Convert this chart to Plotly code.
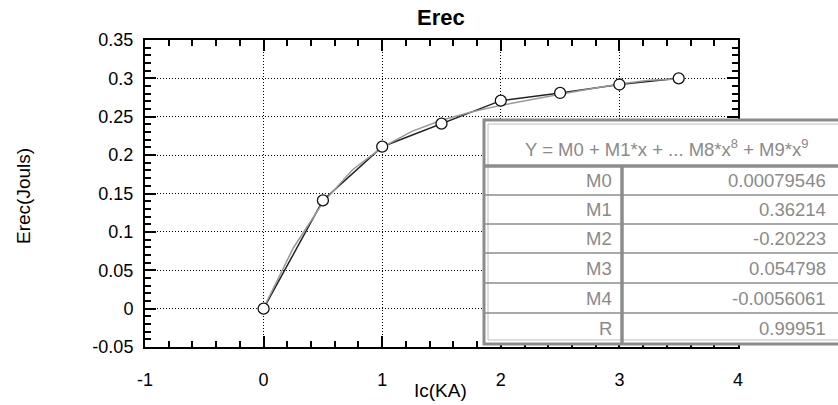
import plotly.graph_objects as go

# ---- data ----
ic_ka = [0, 0.5, 1, 1.5, 2, 2.5, 3, 3.5]
erec = [0.0, 0.141, 0.211, 0.241, 0.271, 0.281, 0.292, 0.300]

fit_x = [0, 0.25, 0.5, 0.75, 1, 1.25, 1.5, 1.75, 2, 2.25, 2.5, 2.75, 3, 3.25, 3.5]
fit_y = [0.0008, 0.079, 0.138, 0.181, 0.210, 0.231, 0.2455, 0.2563, 0.2648,
         0.2723, 0.2794, 0.2863, 0.2926, 0.2975, 0.2993]

x_tickvals = [-1, 0, 1, 2, 3, 4]
x_ticktext = ["-1", "0", "1", "2", "3", "4"]
y_tickvals = [-0.05, 0, 0.05, 0.1, 0.15, 0.2, 0.25, 0.3, 0.35]
y_ticktext = ["-0.05", "0", "0.05", "0.1", "0.15", "0.2", "0.25", "0.3", "0.35"]

table_header = "Y = M0 + M1*x + ... M8*x<sup>8</sup> + M9*x<sup>9</sup>"
param_names = ["M0", "M1", "M2", "M3", "M4", "R"]
param_values = ["0.00079546", "0.36214", "-0.20223", "0.054798", "-0.0056061", "0.99951"]

# ---- figure ----
W, H = 838, 405
L, R, T, B = 145, 738, 40, 347

def px(x):
    return (x - L) / (R - L)

def py(y):
    return (B - y) / (B - T)

FONT = "Liberation Sans, Arial, sans-serif"

fig = go.Figure()
fig.add_trace(go.Scatter(x=ic_ka, y=erec, mode="lines",
                         line=dict(color="#222222", width=1.5), showlegend=False))
fig.add_trace(go.Scatter(x=fit_x, y=fit_y, mode="lines",
                         line=dict(color="#999999", width=1.5), showlegend=False))
fig.add_trace(go.Scatter(x=ic_ka, y=erec, mode="markers",
                         marker=dict(symbol="circle", size=11, color="white",
                                     line=dict(color="#111111", width=1.3)),
                         showlegend=False))

axis_common = dict(showline=True, linecolor="black", linewidth=2, mirror="allticks",
                   ticks="inside", tickcolor="black", tickwidth=1.5, ticklen=11,
                   showgrid=True, gridcolor="black", griddash="1px,2px", gridwidth=1,
                   zeroline=False, tickfont=dict(family=FONT, size=18, color="black"))

fig.update_xaxes(range=[-1, 4], tickvals=x_tickvals, ticktext=x_ticktext,
                 ticklabelstandoff=15,
                 minor=dict(dtick=0.2, tick0=0, ticks="inside", ticklen=6,
                            tickcolor="black", tickwidth=1.5, showgrid=False),
                 **axis_common)
fig.update_yaxes(range=[-0.05, 0.35], tickvals=y_tickvals, ticktext=y_ticktext,
                 ticklabelstandoff=6,
                 minor=dict(dtick=0.01, tick0=0, ticks="inside", ticklen=6,
                            tickcolor="black", tickwidth=1.5, showgrid=False),
                 **axis_common)

def ann(text, x, y, font, xanchor="center", **kw):
    return dict(text=text, x=px(x), y=py(y), xref="paper", yref="paper",
                xanchor=xanchor, yanchor="middle", showarrow=False, font=font, **kw)

annotations = [
    ann("<b>Erec</b>", 441, 18, dict(family=FONT, size=22, color="black")),
    ann("Ic(KA)", 440, 390, dict(family=FONT, size=19, color="black")),
    ann("Erec(Jouls)", 23, 196, dict(family=FONT, size=19, color="black"), textangle=-90),
]

# ---- table overlay ----
tx0, tx1 = 484, 850
ty0, ty1 = 120, 344
hdr_bottom = 166
col_div = 622
row_edges = [166, 195, 224, 253, 283, 313, 344]
gray = "#8c8c8c"

shapes = []
shapes.append(dict(type="rect", xref="paper", yref="paper", x0=px(tx0), x1=px(tx1),
                   y0=py(ty1), y1=py(ty0), fillcolor="white",
                   line=dict(color=gray, width=3), layer="above"))
shapes.append(dict(type="rect", xref="paper", yref="paper", x0=px(tx0 + 4), x1=px(tx1),
                   y0=py(ty1 - 4), y1=py(ty0 + 4), fillcolor="rgba(0,0,0,0)",
                   line=dict(color="#bdbdbd", width=1), layer="above"))
shapes.append(dict(type="line", xref="paper", yref="paper", x0=px(tx0), x1=px(tx1),
                   y0=py(hdr_bottom), y1=py(hdr_bottom),
                   line=dict(color=gray, width=3.5), layer="above"))
shapes.append(dict(type="line", xref="paper", yref="paper", x0=px(col_div), x1=px(col_div),
                   y0=py(hdr_bottom), y1=py(ty1),
                   line=dict(color=gray, width=3.5), layer="above"))
for ye in row_edges[1:-1]:
    shapes.append(dict(type="line", xref="paper", yref="paper", x0=px(tx0), x1=px(tx1),
                       y0=py(ye), y1=py(ye), line=dict(color=gray, width=1.5),
                       layer="above"))

tfont = dict(family=FONT, size=18.5, color="#8a8a8a")
annotations.append(ann(table_header, 666, 148, tfont))
for i, (nm, val) in enumerate(zip(param_names, param_values)):
    yc = (row_edges[i] + row_edges[i + 1]) / 2
    annotations.append(ann(nm, 614, yc, tfont, xanchor="right"))
    annotations.append(ann(val, 828, yc, tfont, xanchor="right"))

fig.update_layout(width=W, height=H, margin=dict(l=L, r=W - R, t=T, b=H - B),
                  paper_bgcolor="white", plot_bgcolor="white",
                  shapes=shapes, annotations=annotations,
                  font=dict(family=FONT, color="black"))

fig.write_html("out.html")
